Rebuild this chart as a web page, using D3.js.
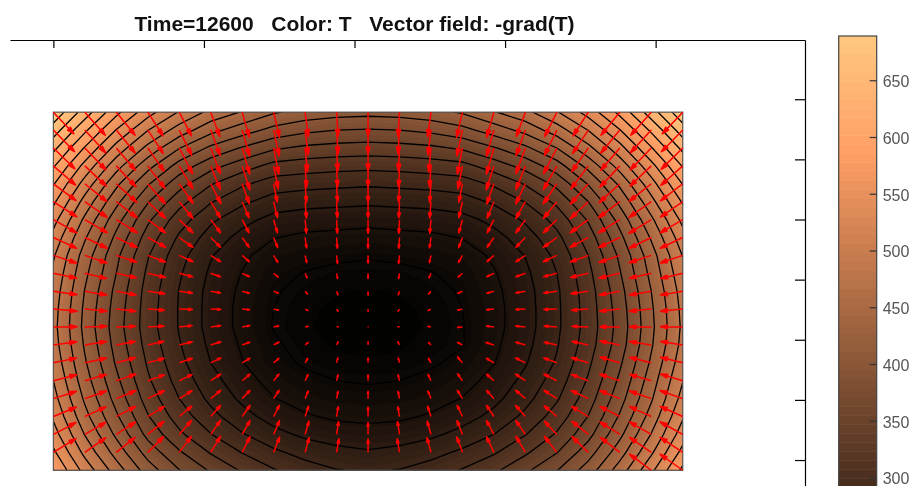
<!DOCTYPE html>
<html><head><meta charset="utf-8">
<script src="https://cdnjs.cloudflare.com/ajax/libs/d3/7.8.5/d3.min.js"></script>
<style>html,body{margin:0;background:#fff;overflow:hidden}svg{display:block;filter:blur(0.5px)}text{font-family:"Liberation Sans",Arial,sans-serif}</style>
</head><body><div id="c"></div>
<script>
const titleText = "Time=12600\u00A0\u00A0\u00A0Color: T\u00A0\u00A0\u00A0Vector field: -grad(T)";
const xTicks = [0, 0.5, 1, 1.5, 2];
const yTicks = [0, 1, 2, 3, 4, 5, 6];
const colorTicks = [300, 350, 400, 450, 500, 550, 600, 650];
const contourLevels = [200,225,250,275,300,325,350,375,400,425,450,475,500,525,550,575,600,625,650,675];
// columns of the last mesh row that carry an arrow in the picture
const lastRowArrowCols = [19, 20];
// T read on the mesh, top row first
const T = [
[694,638,582,535,498,468,448,428,416,410,408,410,416,428,448,468,498,535,582,638,694],
[663,605,549,501,464,433,412,392,381,375,373,375,381,392,412,433,463,501,549,605,663],
[632,573,516,468,426,395,373,354,345,341,339,341,345,354,373,395,425,468,516,573,632],
[603,542,485,434,390,359,337,317,312,309,307,309,312,317,337,359,389,433,485,542,602],
[577,515,456,403,360,327,304,288,284,281,279,281,284,288,304,327,357,402,455,515,576],
[555,491,432,377,334,302,280,264,259,257,255,257,259,264,279,301,331,375,431,492,553],
[534,470,410,355,312,280,258,242,237,235,233,235,237,242,257,279,309,353,409,470,532],
[517,453,394,339,296,264,242,226,220,218,216,218,220,226,241,263,293,337,393,453,515],
[503,439,381,327,284,252,230,213,207,204,202,204,207,213,229,251,281,325,380,439,501],
[495,431,375,320,278,246,224,206,199,195,194,195,199,206,223,245,275,318,373,432,493],
[489,424,368,315,274,242,220,202,194,189,187,189,194,202,219,241,271,313,366,425,486],
[485,420,364,313,273,241,218,200,191,185,183,185,191,200,217,240,270,311,362,421,482],
[483,418,362,312,273,241,218,199,190,183,181,183,190,199,217,240,270,310,360,419,480],
[486,422,366,316,277,245,222,203,193,186,184,186,193,199,220,243,273,313,363,422,483],
[492,428,372,322,282,250,226,207,197,192,190,192,197,206,224,248,278,320,371,429,490],
[500,436,381,329,290,259,235,216,206,200,198,200,206,216,233,257,287,328,380,438,499],
[509,446,391,339,300,269,245,226,215,209,207,209,215,226,243,267,297,338,390,447,509],
[521,458,404,352,313,283,259,240,228,221,219,221,228,240,257,281,311,351,403,460,522],
[536,474,420,368,330,301,277,258,245,237,234,237,245,258,275,299,328,367,419,476,538],
[555,493,440,390,353,323,299,280,266,258,253,258,266,280,297,321,349,389,439,496,558],
[576,516,463,413,376,347,322,302,287,276,272,276,287,302,320,345,374,412,462,519,581]
];

const W = 912, H = 486;
const TMIN = 180, TMAX = 689, NCOLORS = 64, ARROW_X = 11.5, ARROW_Y = 12.5;
const nCols = T[0].length, nRows = T.length;
const x = d3.scaleLinear().domain([-0.144, 2.496]).range([10, 805]);
const y = d3.scaleLinear().domain([-0.5, 6.985]).range([490.1, 40]);
const xImg = [0, 2.09], yImg = [5.785, -0.17];
const gx = d3.scaleLinear().domain([0, nCols - 1]).range(xImg);
const gy = d3.scaleLinear().domain([0, nRows - 1]).range(yImg);
const px = j => x(gx(j)), py = i => y(gy(i));
const copper = t => `rgb(${Math.round(255*Math.min(1,1.25*t))},${Math.round(255*0.7812*t)},${Math.round(255*0.4975*t)})`;
const step = (TMAX - TMIN) / NCOLORS;
const bandColor = k => copper((k + 0.5) / NCOLORS);

const svg = d3.select("#c").append("svg").attr("width", W).attr("height", H);
const L = px(0), R = px(nCols - 1), Tp = py(0), B = py(nRows - 1);
svg.append("defs").append("clipPath").attr("id", "img").append("rect")
  .attr("x", L).attr("y", Tp).attr("width", R - L).attr("height", B - Tp);

// image: filled bands and contour lines
const flat = T.flat();
const proj = d3.geoTransform({ point(a, b) { this.stream.point(px(a - 0.5), py(b - 0.5)); } });
const path = d3.geoPath(proj);
const bands = d3.range(NCOLORS).map(k => TMIN + k * step);
const gi = svg.append("g").attr("clip-path", "url(#img)");
gi.append("rect").attr("x", L).attr("y", Tp).attr("width", R - L).attr("height", B - Tp).attr("fill", bandColor(0));
const contours = d3.contours().size([nCols, nRows]);
gi.selectAll("path.band").data(contours.thresholds(bands)(flat)).join("path")
  .attr("class", "band").attr("d", path)
  .attr("fill", (d, k) => bandColor(k)).attr("stroke", (d, k) => bandColor(k)).attr("stroke-width", 0.4);
gi.selectAll("path.line").data(contours.thresholds(contourLevels)(flat)).join("path")
  .attr("class", "line").attr("d", path).attr("fill", "none").attr("stroke", "#000").attr("stroke-width", 1.3);
svg.append("rect").attr("x", L).attr("y", Tp).attr("width", R - L).attr("height", B - Tp)
  .attr("fill", "none").attr("stroke", "#555").attr("stroke-width", 1.2);

// quiver of -grad(T)
const dxPx = px(1) - px(0), dyPx = py(1) - py(0);
const arrows = [];
for (let i = 0; i < nRows; i++) for (let j = 0; j < nCols; j++) {
  if (i === nRows - 1 && !lastRowArrowCols.includes(j)) continue;
  const j0 = Math.max(0, j - 1), j1 = Math.min(nCols - 1, j + 1);
  const i0 = Math.max(0, i - 1), i1 = Math.min(nRows - 1, i + 1);
  const u = -(T[i][j1] - T[i][j0]) / ((j1 - j0) * dxPx) * ARROW_X;
  const v = -(T[i1][j] - T[i0][j]) / ((i1 - i0) * dyPx) * ARROW_Y;
  arrows.push({ x: px(j), y: py(i), u, v });
}
const ga = svg.append("g");
ga.selectAll("path").data(arrows).join("path")
  .attr("d", a => {
    const x1 = a.x + a.u, y1 = a.y + a.v, len = Math.hypot(a.u, a.v) || 1;
    const ux = a.u / len, uy = a.v / len, hl = Math.min(7, len * 0.3), hw = hl * 0.28;
    const bx = x1 - ux * hl, by = y1 - uy * hl;
    return `M${a.x},${a.y}L${bx},${by}M${x1},${y1}L${bx - uy * hw},${by + ux * hw}L${bx + uy * hw},${by - ux * hw}Z`;
  })
  .attr("stroke", "#ff0000").attr("stroke-width", 1.5).attr("fill", "#ff0000").attr("stroke-linejoin", "round");

// axes (no labels)
const ax = svg.append("g").attr("transform", `translate(0,${y.range()[1]})`)
  .call(d3.axisBottom(x).tickValues(xTicks).tickFormat("").tickSizeInner(8).tickSizeOuter(0));
const ay = svg.append("g").attr("transform", `translate(${x.range()[1]},0)`)
  .call(d3.axisLeft(y).tickValues(yTicks).tickFormat("").tickSizeInner(10).tickSizeOuter(0));
for (const g of [ax, ay]) g.selectAll("path,line").attr("stroke", "#000").attr("stroke-width", 1.2);

// title
svg.append("text").attr("x", 354.5).attr("y", 31).attr("text-anchor", "middle")
  .attr("font-size", 21).attr("font-weight", "bold").attr("fill", "#111").text(titleText);

// colorbar
const cbL = 838.7, cbR = 876.7;
const c = d3.scaleLinear().domain([TMIN, TMAX]).range([80.7 + (650 - TMIN) * 1.134, 36]);
svg.selectAll("rect.cb").data(d3.range(NCOLORS)).join("rect").attr("class", "cb")
  .attr("x", cbL).attr("width", cbR - cbL)
  .attr("y", k => c(TMIN + (k + 1) * step)).attr("height", k => c(TMIN + k * step) - c(TMIN + (k + 1) * step) + 0.5)
  .attr("fill", bandColor);
svg.append("rect").attr("x", cbL).attr("y", 36).attr("width", cbR - cbL).attr("height", c(TMIN) - 36)
  .attr("fill", "none").attr("stroke", "#444").attr("stroke-width", 1.2);
const ac = svg.append("g").attr("transform", `translate(${cbR},0)`)
  .call(d3.axisRight(c).tickValues(colorTicks).tickSizeInner(-7).tickSizeOuter(0).tickPadding(6));
ac.select(".domain").remove();
ac.selectAll("line").attr("stroke", "#333").attr("stroke-width", 1.2);
ac.selectAll("text").attr("font-size", 16).attr("fill", "#555").attr("dy", "0.4em").attr("font-family", '"Liberation Sans",Arial,sans-serif');
</script></body></html>
